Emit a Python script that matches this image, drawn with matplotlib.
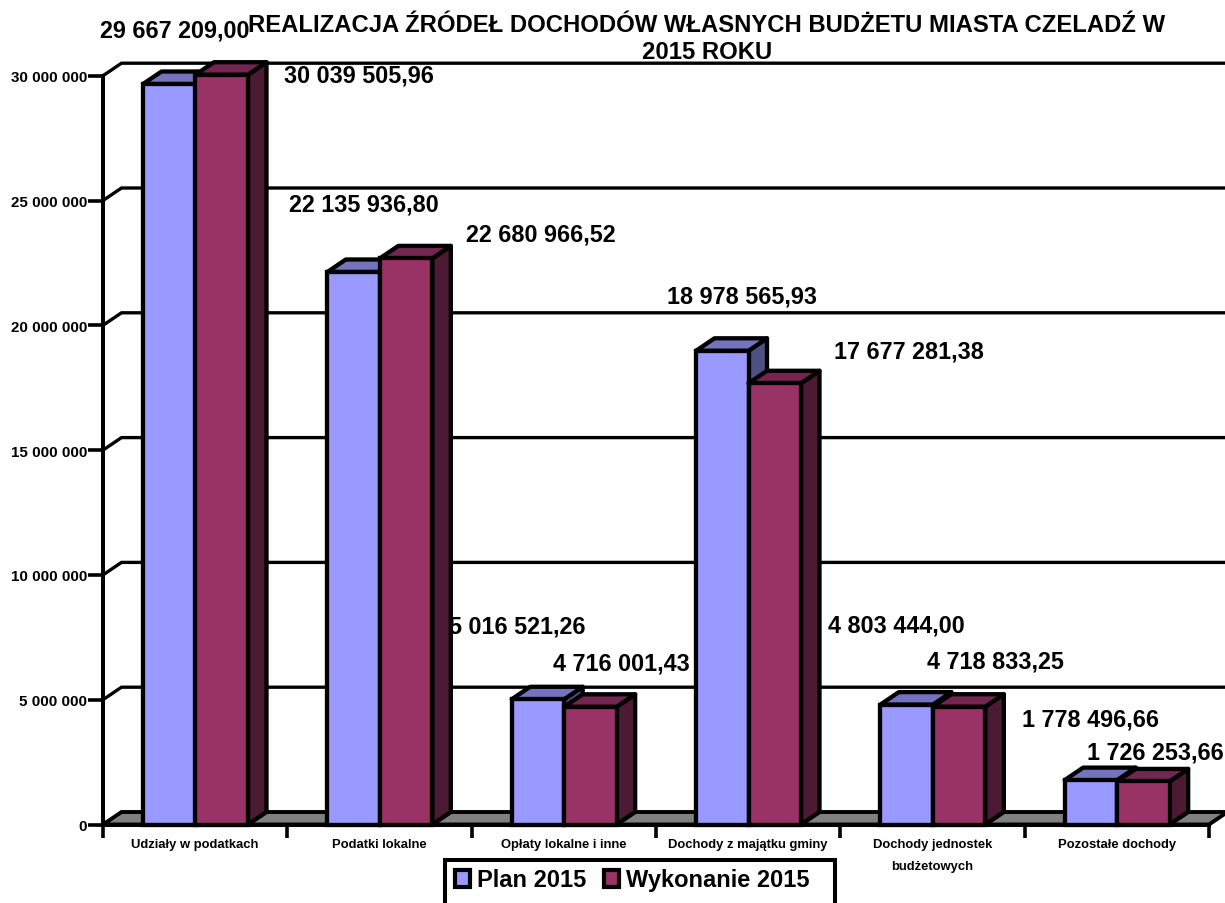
import matplotlib
matplotlib.use('Agg')
import matplotlib.pyplot as plt
from matplotlib.patches import Patch, Rectangle

plt.rcParams['font.family'] = ['Liberation Sans', 'DejaVu Sans']
plt.rcParams['font.weight'] = 'bold'

categories = ['Udziały w podatkach', 'Podatki lokalne', 'Opłaty lokalne i inne\nwynikające z ustaw',
              'Dochody z majątku gminy', 'Dochody jednostek\nbudżetowych', 'Pozostałe dochody']
plan = [29667209.00, 22135936.80, 5016521.26, 18978565.93, 4803444.00, 1778496.66]
wykonanie = [30039505.96, 22680966.52, 4716001.43, 17677281.38, 4718833.25, 1726253.66]
y_ticks = [0, 5000000, 10000000, 15000000, 20000000, 25000000, 30000000]
y_tick_labels = ['0', '5 000 000', '10 000 000', '15 000 000', '20 000 000', '25 000 000', '30 000 000']
value_labels = ['29 667 209,00', '30 039 505,96', '22 135 936,80', '22 680 966,52', '5 016 521,26', '4 716 001,43',
                '18 978 565,93', '17 677 281,38', '4 803 444,00', '4 718 833,25', '1 778 496,66', '1 726 253,66']
# left edge / vertical centre of each value label, in pixels of the picture
label_x = [100, 284, 289, 466, 449, 553, 667, 834, 828, 927, 1022, 1087]
label_y = [31, 76, 205, 235, 627, 664, 297, 352, 626, 662, 720, 753]

W, H = 1225, 904
LEFT, RIGHT, BOTTOM, TOP = 103, 1209, 825.5, 76.7

fig = plt.figure(figsize=(W / 100, H / 100), dpi=100)
ax = fig.add_axes([LEFT / W, 1 - BOTTOM / H, (RIGHT - LEFT) / W, (BOTTOM - TOP) / H])
ax.set_xlim(0, 6)
ax.set_ylim(0, 30000000)
ax.patch.set_visible(False)

# depth of the fake 3D, converted from pixels to data units
dx = 18.5 / ((RIGHT - LEFT) / 6)
dy = 12.5 / ((BOTTOM - TOP) / 30000000)
bar_w = 52.5 / ((RIGHT - LEFT) / 6)
bar_start = 40 / ((RIGHT - LEFT) / 6)
edge = 3.1


def poly(xs, ys, color, z):
    ax.fill(xs, ys, facecolor=color, edgecolor='black', lw=edge, clip_on=False, zorder=z, joinstyle='round')


# back wall and floor
ax.fill([0, dx, 6 + dx, 6], [0, dy, dy, 0], facecolor='#808080', edgecolor='black', lw=2.8, clip_on=False, zorder=1)
for t in y_ticks[1:]:
    ax.plot([0, dx, 6 + dx], [t, t + dy, t + dy], color='black', lw=2.4, clip_on=False, zorder=1,
            solid_joinstyle='miter')


def bar3d(x, val, front, top, side, z):
    poly([x + bar_w, x + bar_w + dx, x + bar_w + dx, x + bar_w], [0, dy, val + dy, val], side, z)
    poly([x, x + dx, x + bar_w + dx, x + bar_w], [val, val + dy, val + dy, val], top, z)
    ax.bar(x, val, bar_w, align='edge', color=front, edgecolor='black', lw=edge, clip_on=False, zorder=z)


for i in range(len(categories)):
    x0 = i + bar_start
    bar3d(x0, plan[i], '#9999FF', '#7373BF', '#4F5185', 4 + i * 2)
    bar3d(x0 + bar_w, wykonanie[i], '#993366', '#732650', '#4D1A33', 5 + i * 2)

for s in ['top', 'right']:
    ax.spines[s].set_visible(False)
for s in ['left', 'bottom']:
    ax.spines[s].set_linewidth(2.9)
    ax.spines[s].set_zorder(30)

ax.set_yticks(y_ticks)
ax.set_yticklabels(y_tick_labels, fontsize=10.9, fontweight='bold')
ax.tick_params(axis='y', length=10.5, width=2.6, pad=1)
ax.set_xticks(range(7))
ax.set_xticklabels([])
ax.tick_params(axis='x', which='major', length=9.5, width=2.6)
ax.set_xticks([i + 0.5 for i in range(6)], minor=True)
ax.set_xticklabels(categories, minor=True, fontsize=9.4, fontweight='bold', linespacing=2.05, va='top')
ax.tick_params(axis='x', which='minor', length=0, pad=10)

for txt, px, py in zip(value_labels, label_x, label_y):
    ax.text(px / W, 1 - py / H, txt, transform=fig.transFigure, fontsize=16.8, fontweight='bold',
            ha='left', va='center', zorder=2, clip_on=False)

fig.text(707 / W, 1 - 39 / H, 'REALIZACJA ŹRÓDEŁ DOCHODÓW WŁASNYCH BUDŻETU MIASTA CZELADŹ W\n2015 ROKU',
         ha='center', va='center', fontsize=17.2, fontweight='bold', linespacing=1.2)

# legend box runs off the bottom of the picture and hides part of a category label
ax.add_patch(Rectangle((445 / W, 1 - 915 / H), 390 / W, 54 / H, transform=fig.transFigure, facecolor='white',
                       edgecolor='black', lw=2.9, clip_on=False, zorder=40))
handles = [Patch(facecolor='#9999FF', edgecolor='black', lw=3), Patch(facecolor='#993366', edgecolor='black', lw=3)]
leg = ax.legend(handles, ['Plan 2015', 'Wykonanie 2015'], ncols=2, frameon=False, loc='center left',
                bbox_to_anchor=(455 / W, 1 - 881 / H), bbox_transform=fig.transFigure, borderpad=0, borderaxespad=0,
                handlelength=0.65, handletextpad=0.3, columnspacing=0.72,
                prop={'size': 17, 'weight': 'bold'})
leg.set_zorder(41)

fig.savefig('out.png', dpi=100)
